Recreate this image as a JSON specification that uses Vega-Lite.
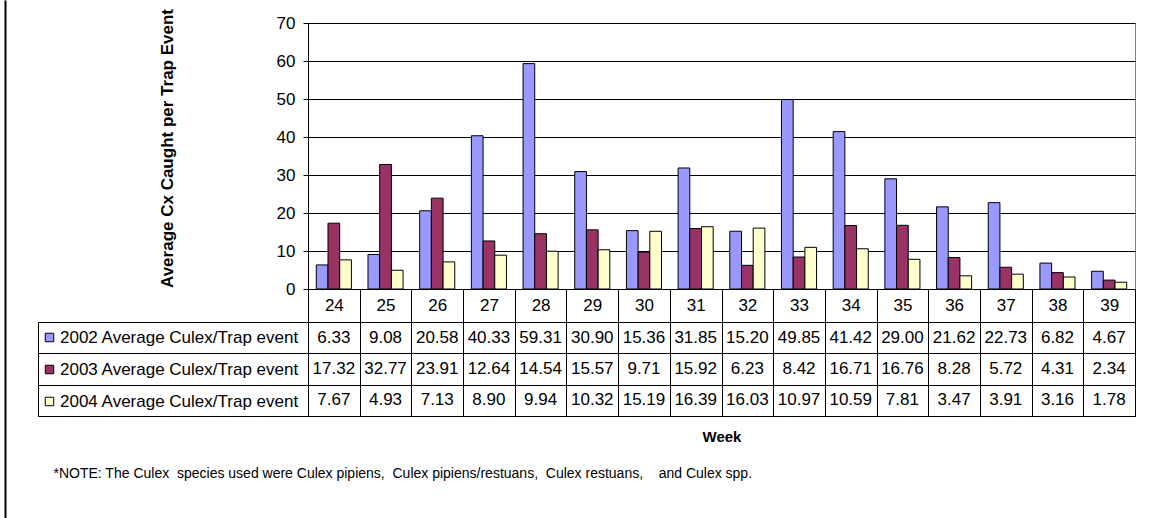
{
  "$schema": "https://vega.github.io/schema/vega-lite/v6.json",
  "background": "white",
  "padding": {"left": 4, "top": 7, "right": 20, "bottom": 0},
  "config": {"font": "Liberation Sans", "view": {"stroke": null}},
  "datasets": {
    "counts": [
      {"week": 24, "series": "2002 Average Culex/Trap event", "value": 6.33},
      {"week": 25, "series": "2002 Average Culex/Trap event", "value": 9.08},
      {"week": 26, "series": "2002 Average Culex/Trap event", "value": 20.58},
      {"week": 27, "series": "2002 Average Culex/Trap event", "value": 40.33},
      {"week": 28, "series": "2002 Average Culex/Trap event", "value": 59.31},
      {"week": 29, "series": "2002 Average Culex/Trap event", "value": 30.90},
      {"week": 30, "series": "2002 Average Culex/Trap event", "value": 15.36},
      {"week": 31, "series": "2002 Average Culex/Trap event", "value": 31.85},
      {"week": 32, "series": "2002 Average Culex/Trap event", "value": 15.20},
      {"week": 33, "series": "2002 Average Culex/Trap event", "value": 49.85},
      {"week": 34, "series": "2002 Average Culex/Trap event", "value": 41.42},
      {"week": 35, "series": "2002 Average Culex/Trap event", "value": 29.00},
      {"week": 36, "series": "2002 Average Culex/Trap event", "value": 21.62},
      {"week": 37, "series": "2002 Average Culex/Trap event", "value": 22.73},
      {"week": 38, "series": "2002 Average Culex/Trap event", "value": 6.82},
      {"week": 39, "series": "2002 Average Culex/Trap event", "value": 4.67},
      {"week": 24, "series": "2003 Average Culex/Trap event", "value": 17.32},
      {"week": 25, "series": "2003 Average Culex/Trap event", "value": 32.77},
      {"week": 26, "series": "2003 Average Culex/Trap event", "value": 23.91},
      {"week": 27, "series": "2003 Average Culex/Trap event", "value": 12.64},
      {"week": 28, "series": "2003 Average Culex/Trap event", "value": 14.54},
      {"week": 29, "series": "2003 Average Culex/Trap event", "value": 15.57},
      {"week": 30, "series": "2003 Average Culex/Trap event", "value": 9.71},
      {"week": 31, "series": "2003 Average Culex/Trap event", "value": 15.92},
      {"week": 32, "series": "2003 Average Culex/Trap event", "value": 6.23},
      {"week": 33, "series": "2003 Average Culex/Trap event", "value": 8.42},
      {"week": 34, "series": "2003 Average Culex/Trap event", "value": 16.71},
      {"week": 35, "series": "2003 Average Culex/Trap event", "value": 16.76},
      {"week": 36, "series": "2003 Average Culex/Trap event", "value": 8.28},
      {"week": 37, "series": "2003 Average Culex/Trap event", "value": 5.72},
      {"week": 38, "series": "2003 Average Culex/Trap event", "value": 4.31},
      {"week": 39, "series": "2003 Average Culex/Trap event", "value": 2.34},
      {"week": 24, "series": "2004 Average Culex/Trap event", "value": 7.67},
      {"week": 25, "series": "2004 Average Culex/Trap event", "value": 4.93},
      {"week": 26, "series": "2004 Average Culex/Trap event", "value": 7.13},
      {"week": 27, "series": "2004 Average Culex/Trap event", "value": 8.90},
      {"week": 28, "series": "2004 Average Culex/Trap event", "value": 9.94},
      {"week": 29, "series": "2004 Average Culex/Trap event", "value": 10.32},
      {"week": 30, "series": "2004 Average Culex/Trap event", "value": 15.19},
      {"week": 31, "series": "2004 Average Culex/Trap event", "value": 16.39},
      {"week": 32, "series": "2004 Average Culex/Trap event", "value": 16.03},
      {"week": 33, "series": "2004 Average Culex/Trap event", "value": 10.97},
      {"week": 34, "series": "2004 Average Culex/Trap event", "value": 10.59},
      {"week": 35, "series": "2004 Average Culex/Trap event", "value": 7.81},
      {"week": 36, "series": "2004 Average Culex/Trap event", "value": 3.47},
      {"week": 37, "series": "2004 Average Culex/Trap event", "value": 3.91},
      {"week": 38, "series": "2004 Average Culex/Trap event", "value": 3.16},
      {"week": 39, "series": "2004 Average Culex/Trap event", "value": 1.78}
    ]
  },
  "bounds": "flush",
  "spacing": 33,
  "vconcat": [
    {
      "width": 827,
      "height": 266,
      "data": {"name": "counts"},
      "view": {"stroke": "#808080"},
      "resolve": {"scale": {"y": "independent"}},
      "layer": [
        {
          "mark": {"type": "bar", "stroke": "#000000", "strokeWidth": 1},
          "encoding": {
            "x": {
              "field": "week",
              "type": "ordinal",
              "scale": {"paddingInner": 0, "paddingOuter": 0},
              "axis": {
                "title": null,
                "labelAngle": 0,
                "labelFontSize": 17,
                "labelColor": "#000000",
                "labelBaseline": "middle",
                "labelPadding": -16.5,
                "tickBand": "extent",
                "tickSize": 33,
                "tickColor": "#000000",
                "domainColor": "#000000",
                "grid": false
              }
            },
            "xOffset": {
              "field": "series",
              "type": "nominal",
              "scale": {"paddingInner": 0, "paddingOuter": 0.71}
            },
            "y": {
              "field": "value",
              "type": "quantitative",
              "scale": {"domain": [0, 70]},
              "axis": {
                "values": [0, 10, 20, 30, 40, 50, 60, 70],
                "grid": true,
                "gridColor": "#000000",
                "gridOpacity": 1,
                "domainColor": "#000000",
                "tickColor": "#000000",
                "tickSize": 5,
                "labelFontSize": 17,
                "labelColor": "#000000",
                "labelPadding": 8,
                "title": "Average Cx Caught per Trap Event",
                "titleFontSize": 17,
                "titleFontWeight": "bold",
                "titleColor": "#000000",
                "titlePadding": 100,
                "titleY": 125
              }
            },
            "color": {
              "field": "series",
              "type": "nominal",
              "scale": {
                "domain": ["2002 Average Culex/Trap event", "2003 Average Culex/Trap event", "2004 Average Culex/Trap event"],
                "range": ["#9999FF", "#993366", "#FFFFCC"]
              },
              "legend": {
                "orient": "none",
                "legendX": -267,
                "legendY": 306,
                "title": null,
                "padding": 0,
                "symbolType": "square",
                "symbolSize": 72,
                "symbolStrokeColor": "#000000",
                "symbolStrokeWidth": 1,
                "labelFontSize": 17,
                "labelColor": "#000000",
                "labelLimit": 400,
                "labelOffset": 2,
                "rowPadding": 14
              }
            }
          }
        },
        {
          "mark": {"type": "point", "opacity": 0},
          "encoding": {
            "y": {
              "field": "value",
              "type": "quantitative",
              "scale": {"domain": [0, 70], "range": [495, -23]},
              "axis": {
                "orient": "left",
                "offset": 303,
                "domainColor": "#000000",
                "domainWidth": 2,
                "ticks": false,
                "labels": false,
                "grid": false,
                "title": null
              }
            }
          }
        }
      ]
    },
    {
      "width": 827,
      "height": 94,
      "data": {"name": "counts"},
      "view": {"stroke": "#000000"},
      "title": {
        "text": "*NOTE: The Culex\u00a0\u00a0species used were Culex pipiens,\u00a0\u00a0Culex pipiens/restuans,\u00a0\u00a0Culex restuans,\u00a0\u00a0\u00a0\u00a0and Culex spp.",
        "orient": "bottom",
        "anchor": "start",
        "frame": "bounds",
        "fontSize": 14,
        "fontWeight": "normal",
        "color": "#000000",
        "offset": 23,
        "dx": 16
      },
      "mark": {"type": "text", "fontSize": 17, "color": "#000000", "baseline": "middle"},
      "encoding": {
        "x": {
          "field": "week",
          "type": "ordinal",
          "scale": {"paddingInner": 0, "paddingOuter": 0},
          "axis": {
            "labels": false,
            "ticks": false,
            "domain": false,
            "grid": true,
            "tickBand": "extent",
            "gridColor": "#000000",
            "gridOpacity": 1,
            "title": "Week",
            "titleFontSize": 15,
            "titleFontWeight": "bold",
            "titleColor": "#000000",
            "titlePadding": 13
          }
        },
        "y": {
          "field": "series",
          "type": "nominal",
          "scale": {
            "domain": ["2002 Average Culex/Trap event", "2003 Average Culex/Trap event", "2004 Average Culex/Trap event"],
            "paddingInner": 0,
            "paddingOuter": 0
          },
          "axis": {
            "orient": "left",
            "offset": 270,
            "labels": false,
            "ticks": true,
            "tickSize": -270,
            "tickBand": "extent",
            "tickColor": "#000000",
            "domainColor": "#000000",
            "grid": true,
            "gridColor": "#000000",
            "gridOpacity": 1,
            "title": null
          }
        },
        "text": {"field": "value", "type": "quantitative", "format": ".2f"}
      }
    }
  ]
}
